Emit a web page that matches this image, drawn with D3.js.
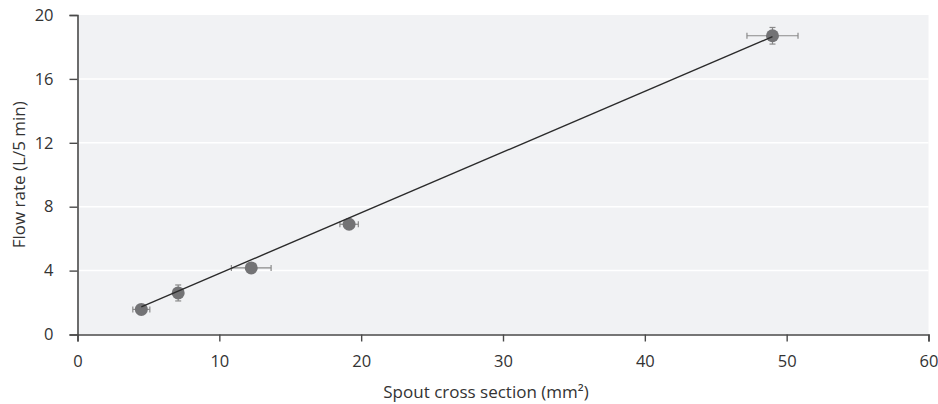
<!DOCTYPE html>
<html>
<head>
<meta charset="utf-8">
<script src="https://cdn.jsdelivr.net/npm/d3@7"></script>
<style>
  body { margin: 0; background: #fff; }
  text { font-family: "Open Sans", sans-serif; fill: #333; }
</style>
</head>
<body>
<script>
// measurements: spout cross section (mm²) vs flow rate (L/5 min)
const area = [4.5, 7.1, 12.25, 19.15, 49.0];
const flow = [1.57, 2.6, 4.17, 6.9, 18.7];
const areaErr = [0.6, 0.15, 1.4, 0.65, 1.8];
const flowErr = [0.15, 0.5, 0.1, 0.15, 0.52];
// fitted line (flow = slope * area + intercept)
const fitSlope = 0.38;
const fitIntercept = 0.02;
const fitRange = [4.5, 49.0];
const xTicks = [0, 10, 20, 30, 40, 50, 60];
const yTicks = [0, 4, 8, 12, 16, 20];

const margin = { top: 15, right: 10, bottom: 70, left: 77.5 };
const width = 928.5 - margin.left;
const height = 334.5 - margin.top;

const x = d3.scaleLinear().domain([0, 60]).range([0, width]);
const y = d3.scaleLinear().domain([0, 20]).range([height, 0]);

const svg = d3.select("body")
  .append("svg")
  .attr("width", 938)
  .attr("height", 404)
  .append("g")
  .attr("transform", `translate(${ margin.left }, ${ margin.top })`);

svg.append("rect")
  .attr("width", width)
  .attr("height", height)
  .attr("fill", "#f1f2f4");

// white horizontal grid
svg.selectAll(".grid")
  .data(yTicks.slice(1, -1))
  .enter().append("line")
  .attr("x1", 0)
  .attr("x2", width)
  .attr("y1", d => y(d))
  .attr("y2", d => y(d))
  .attr("stroke", "#fff")
  .attr("stroke-width", 1.5);

const data = area.map((a, i) => ({ a: a, f: flow[i], ea: areaErr[i], ef: flowErr[i] }));

// error bars
const cap = 3;
const eb = svg.selectAll(".err").data(data).enter().append("g")
  .attr("stroke", "#8a8a8a")
  .attr("stroke-width", 1.2);
eb.append("line")
  .attr("x1", d => x(d.a - d.ea)).attr("x2", d => x(d.a + d.ea))
  .attr("y1", d => y(d.f)).attr("y2", d => y(d.f));
eb.append("line")
  .attr("x1", d => x(d.a - d.ea)).attr("x2", d => x(d.a - d.ea))
  .attr("y1", d => y(d.f) - cap).attr("y2", d => y(d.f) + cap);
eb.append("line")
  .attr("x1", d => x(d.a + d.ea)).attr("x2", d => x(d.a + d.ea))
  .attr("y1", d => y(d.f) - cap).attr("y2", d => y(d.f) + cap);
eb.append("line")
  .attr("x1", d => x(d.a)).attr("x2", d => x(d.a))
  .attr("y1", d => y(d.f - d.ef)).attr("y2", d => y(d.f + d.ef));
eb.append("line")
  .attr("x1", d => x(d.a) - cap).attr("x2", d => x(d.a) + cap)
  .attr("y1", d => y(d.f + d.ef)).attr("y2", d => y(d.f + d.ef));
eb.append("line")
  .attr("x1", d => x(d.a) - cap).attr("x2", d => x(d.a) + cap)
  .attr("y1", d => y(d.f - d.ef)).attr("y2", d => y(d.f - d.ef));

svg.selectAll(".dot")
  .data(data)
  .enter().append("circle")
  .attr("r", 6.5)
  .attr("fill", "#737375")
  .attr("cx", d => x(d.a))
  .attr("cy", d => y(d.f));

svg.append("line")
  .attr("x1", x(fitRange[0]))
  .attr("y1", y(fitSlope * fitRange[0] + fitIntercept))
  .attr("x2", x(fitRange[1]))
  .attr("y2", y(fitSlope * fitRange[1] + fitIntercept))
  .attr("stroke", "#2b2b2b")
  .attr("stroke-width", 1.4);

const xAxis = svg.append("g")
  .attr("transform", "translate(0," + height + ")")
  .call(d3.axisBottom(x).tickValues(xTicks).tickSize(7).tickPadding(14));

const yAxis = svg.append("g")
  .call(d3.axisLeft(y).tickValues(yTicks).tickSize(8).tickPadding(16));

[xAxis, yAxis].forEach(g => {
  g.select(".domain").attr("stroke", "#4a4a4a").attr("stroke-width", 1.6);
  g.selectAll(".tick line").attr("stroke", "#4a4a4a").attr("stroke-width", 1.4);
  g.selectAll(".tick text").style("font-size", "16.5px").style("font-family", "Open Sans").attr("fill", "#333");
});

svg.append("text")
  .attr("transform", "rotate(-90)")
  .attr("y", 19 - margin.left)
  .attr("x", 0 - (height / 2))
  .attr("dy", "0.35em")
  .style("text-anchor", "middle")
  .style("font-size", "17px")
  .text("Flow rate (L/5 min)");

svg.append("text")
  .attr("transform", `translate(${ 486 - margin.left }, ${ 398 - margin.top })`)
  .style("text-anchor", "middle")
  .style("font-size", "17px")
  .text("Spout cross section (mm²)");
</script>
</body>
</html>
